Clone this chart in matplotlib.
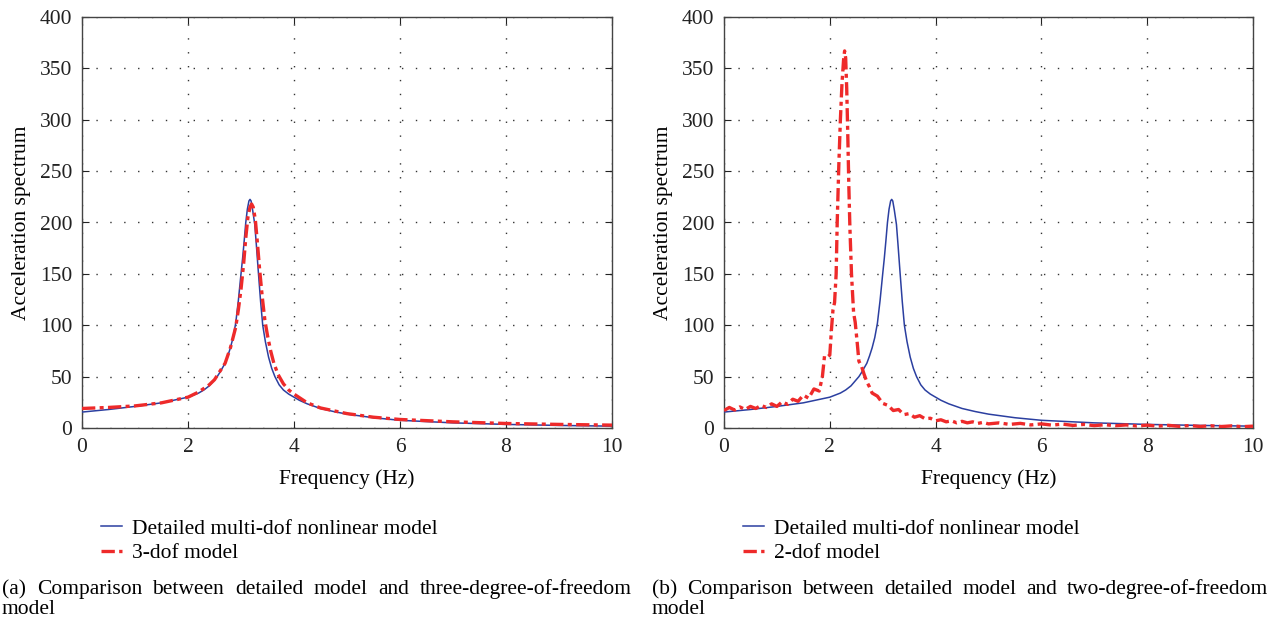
import matplotlib
matplotlib.use("Agg")
from matplotlib import pyplot as plt
import numpy as np

plt.rcParams['font.family'] = ['Liberation Serif', 'DejaVu Serif']

# detailed multi-dof nonlinear model (same curve in both panels)
detailed_f = [0.0, 0.5, 1.0, 1.5, 2.0, 2.1, 2.2, 2.3, 2.4, 2.5, 2.55, 2.6, 2.7, 2.75,
              2.8, 2.85, 2.9, 2.95, 3.0, 3.03, 3.06, 3.09, 3.12, 3.15, 3.17, 3.19,
              3.22, 3.26, 3.29, 3.33, 3.37, 3.41, 3.46, 3.52, 3.58, 3.64, 3.72, 3.8,
              3.9, 4.0, 4.1, 4.25, 4.5, 4.75, 5.0, 5.5, 6.0, 7.0, 8.0, 9.0, 10.0]
detailed_acc = [15.5, 18, 21, 24.5, 30, 32, 34, 37, 41, 47, 50, 54, 63, 70,
                78, 88, 102, 124, 150, 165, 182, 200, 213, 221, 222.5, 221,
                212, 198, 178, 150, 123, 100, 84, 69, 58, 50, 42, 37,
                33, 30, 27, 23.5, 19, 16, 13.5, 10, 7.5, 5, 3.5, 2.5, 1.8]

# 3-dof model
three_f = [0.0, 0.5, 1.0, 1.5, 2.0, 2.2, 2.4, 2.5, 2.6, 2.7, 2.8, 2.9, 2.95, 3.0,
           3.05, 3.09, 3.13, 3.17, 3.2, 3.23, 3.27, 3.31, 3.35, 3.4, 3.45, 3.5,
           3.56, 3.62, 3.7, 3.8, 3.9, 4.0, 4.25, 4.5, 5.0, 5.5, 6.0, 7.0, 8.0,
           9.0, 10.0]
three_acc = [19, 20, 21.5, 24.5, 30, 35, 42, 47, 55, 63, 78, 98, 115, 135,
             160, 185, 205, 215, 218, 215, 203, 180, 155, 128, 105, 90,
             75, 63, 52, 43, 37, 33, 24.5, 19.5, 14, 10.5, 8.3, 6, 4.4,
             3.5, 2.8]

# 2-dof model
two_f = [0.0, 0.1, 0.2, 0.3, 0.4, 0.5, 0.6, 0.7, 0.8, 0.9, 1.0, 1.1, 1.2, 1.3,
         1.4, 1.5, 1.6, 1.7, 1.8, 1.86, 1.9, 1.95, 2.0, 2.03, 2.06, 2.09, 2.12,
         2.14, 2.17, 2.2, 2.23, 2.26, 2.28, 2.3, 2.32, 2.34, 2.36, 2.38, 2.41,
         2.45, 2.48, 2.52, 2.55, 2.6, 2.65, 2.7, 2.75, 2.8,
         2.9, 3.0, 3.1, 3.2, 3.3, 3.4, 3.5, 3.6, 3.7, 3.8, 3.9, 4.0, 4.1, 4.2,
         4.3, 4.4, 4.5, 4.6, 4.7, 4.8, 4.9, 5.0, 5.2, 5.4, 5.6, 5.8, 6.0, 6.2,
         6.4, 6.6, 6.8, 7.0, 7.2, 7.4, 7.6, 7.8, 8.0, 8.2, 8.4, 8.6, 8.8, 9.0,
         9.2, 9.4, 9.6, 9.8, 10.0]
two_acc = [17, 20, 17.5, 20.5, 18, 21, 19, 22, 20, 23.5, 21, 25.5, 23, 28,
           26, 32, 29, 38, 36, 50, 70, 69, 71, 95, 115, 122, 150,
           200, 255, 300, 335, 358, 367, 360, 330, 285, 235, 195, 150,
           112, 103, 82, 65, 60, 52, 45, 40, 34,
           31, 24, 22, 17, 18, 13, 14, 10.5, 12, 9, 9.5, 7, 8, 6,
           7, 5, 6.5, 5, 6, 4.5, 5.5, 4, 5, 3.5, 4.5, 3, 4, 2.8,
           3.8, 2.5, 3.5, 2.3, 3.2, 2.2, 3, 2, 2.8, 1.8, 2.6, 1.6, 2.4, 1.5,
           2.2, 1.4, 2.1, 1.3, 1.8]

legend_labels = ['Detailed multi-dof nonlinear model', '3-dof model', '2-dof model']
captions = [
    ['(a) Comparison between detailed model and three-degree-of-freedom', 'model'],
    ['(b) Comparison between detailed model and two-degree-of-freedom', 'model'],
]

W, H = 1273, 620
fig = plt.figure(figsize=(W / 100, H / 100), dpi=100)

ax_a = fig.add_axes([82 / W, 1 - 428 / H, 530 / W, 411 / H])
ax_b = fig.add_axes([724 / W, 1 - 428 / H, 529 / W, 411 / H])

blue = '#2b3fa0'
red = '#ee2a2a'

panels = [
    (ax_a, three_f, three_acc, legend_labels[1], 100),
    (ax_b, two_f, two_acc, legend_labels[2], 742),
]

for ax, f_red, acc_red, red_label, leg_x in panels:
    l1, = ax.plot(detailed_f, detailed_acc, color=blue, lw=1.1, zorder=3)
    l2, = ax.plot(f_red, acc_red, color=red, lw=2.4, linestyle=(0, (4, 1.3, 1.2, 1.3)), zorder=4)
    ax.set_xlim(0, 10)
    ax.set_ylim(0, 400)
    ax.set_xticks(np.arange(0, 11, 2))
    ax.set_yticks(np.arange(0, 401, 50))
    ax.tick_params(direction='in', length=5, width=0.8, top=True, right=True,
                   labelsize=15.5, pad=7, colors='#222222')
    ax.grid(True, color='#333333', linestyle=(0, (1, 9)), linewidth=1.0)
    for s in ax.spines.values():
        s.set_color('#444444')
        s.set_linewidth(1.0)
    ax.set_xlabel('Frequency (Hz)', fontsize=15.5, labelpad=9)
    ax.set_ylabel('Acceleration spectrum', fontsize=15.5, labelpad=6)
    fig.legend([l1, l2], [legend_labels[0], red_label], loc='upper left',
               bbox_to_anchor=((leg_x - 8) / W, 1 - 510 / H), frameon=False,
               fontsize=15.5, handlelength=1.0, handletextpad=0.45,
               labelspacing=0.22, borderaxespad=0)


def justify(words, x0, x1, y, size):
    # spread words so the line fills x0..x1 (pixels), y is the baseline
    r = fig.canvas.get_renderer()
    texts = [fig.text(0, 1 - y / H, w, fontsize=size, va='baseline', ha='left') for w in words]
    widths = [t.get_window_extent(r).width for t in texts]
    gap = (x1 - x0 - sum(widths)) / max(len(words) - 1, 1)
    x = x0
    for t, w in zip(texts, widths):
        t.set_x(x / W)
        x += w + gap


fig.canvas.draw()
for (line1, line2), x0, x1 in [(captions[0], 2, 632), (captions[1], 652, 1268)]:
    justify(line1.split(' '), x0, x1, 594, 15.5)
    fig.text(x0 / W, 1 - 614 / H, line2, fontsize=15.5, va='baseline', ha='left')

fig.savefig('out.png', dpi=100)
